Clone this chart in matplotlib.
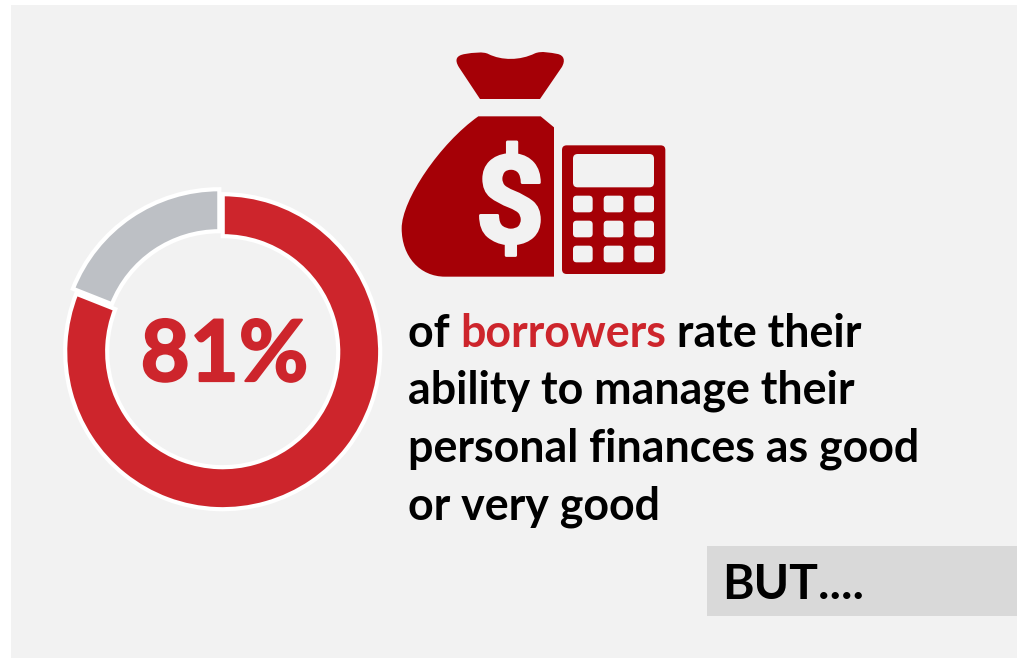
import matplotlib
matplotlib.use('Agg')
import matplotlib.pyplot as plt
from matplotlib.patches import FancyBboxPatch, PathPatch, Rectangle
from matplotlib.path import Path
import matplotlib.patheffects as pe

W, H = 1017, 659

shares = [81, 19]
share_colors = ['#CD252C', '#BDC0C5']
text_lines = [
    [('of ', 'black'), ('borrowers', '#CD252C'), (' rate their', 'black')],
    [('ability to manage their', 'black')],
    [('personal finances as good', 'black')],
    [('or very good', 'black')],
]
footer = 'BUT....'

PANEL = '#F2F2F2'
ICON = '#A50006'

fig = plt.figure(figsize=(W / 100, H / 100), dpi=100, facecolor='white')
ax = fig.add_axes([0, 0, 1, 1])


def py(y):
    return H - y


# icon coordinates were laid out on a 3x grid, offset from the top left
def ic(x, y):
    return 390 + x / 3, py(40 + y / 3)


def icon_shape(segments):
    verts, codes = [], []
    for code, pts in segments:
        for p in pts:
            verts.append(ic(*p))
            codes.append(code)
    verts.append(verts[0])
    codes.append(Path.CLOSEPOLY)
    ax.add_patch(PathPatch(Path(verts, codes), facecolor=ICON, edgecolor='none', zorder=3))


def icon_box(x0, y0, x1, y1, r, color, z):
    bx, by = ic(x0, y1)
    w, h = (x1 - x0) / 3, (y1 - y0) / 3
    pad = r / 3
    ax.add_patch(FancyBboxPatch((bx + pad, by + pad), w - 2 * pad, h - 2 * pad,
                                boxstyle='round,pad=%f,rounding_size=%f' % (pad, pad),
                                facecolor=color, edgecolor='none', zorder=z))


ax.add_patch(Rectangle((11, py(658)), W - 11, 653, facecolor=PANEL, edgecolor='none', zorder=0))
ax.add_patch(Rectangle((707, py(616)), W - 707, 70, facecolor='#D9D9D9', edgecolor='none', zorder=1))

# donut, the smaller share pulled out a little
wedges, _ = ax.pie(shares, colors=share_colors, startangle=90, counterclock=False,
                   center=(222.7, py(351.7)), radius=157.5, explode=[0, 6], frame=True,
                   wedgeprops=dict(width=42, edgecolor='white', linewidth=3))
ax.set_xlim(0, W)
ax.set_ylim(0, H)
ax.set_aspect('auto')
ax.axis('off')

# Lato has no heavier cut installed, a thin outline thickens the strokes
ax.text(224.5, py(381), '%d%%' % shares[0], color=share_colors[0], family='Lato',
        weight='bold', fontsize=61, ha='center', va='baseline', zorder=4,
        path_effects=[pe.withStroke(linewidth=1.6, foreground=share_colors[0])])

# money bag
icon_shape([
    (Path.MOVETO, [(270, 177)]),
    (Path.LINETO, [(207, 82)]),
    (Path.CURVE4, [(192, 58), (200, 46), (225, 42)]),
    (Path.CURVE4, [(250, 38), (280, 34), (295, 42)]),
    (Path.CURVE4, [(335, 62), (390, 62), (435, 40)]),
    (Path.CURVE4, [(455, 32), (480, 38), (503, 42)]),
    (Path.CURVE4, [(522, 46), (527, 62), (515, 82)]),
    (Path.LINETO, [(450, 177)]),
])
icon_shape([
    (Path.MOVETO, [(265, 229)]),
    (Path.LINETO, [(452, 229), (492, 262), (492, 710), (165, 710)]),
    (Path.CURVE4, [(90, 710), (35, 650), (35, 565)]),
    (Path.CURVE4, [(35, 480), (150, 310), (265, 229)]),
])
dx, dy = ic(360, 470)
ax.text(dx, dy, '$', color=PANEL, family='Roboto', weight='bold', fontsize=88,
        ha='center', va='center_baseline', zorder=4,
        path_effects=[pe.withStroke(linewidth=2, foreground=PANEL)])

# calculator
icon_box(516, 316, 826, 702, 14, ICON, 3)
icon_box(549, 342, 792, 442, 14, PANEL, 4)
for y0 in (467, 542, 617):
    for x0 in (549, 641, 733):
        icon_box(x0, y0, x0 + 59, y0 + 50, 11, PANEL, 4)

# body text, runs of one line placed one after the other
fig.canvas.draw()
renderer = fig.canvas.get_renderer()
baselines = [347, 404, 462, 519]
for runs, base in zip(text_lines, baselines):
    x = 408.0
    for s, col in runs:
        t = ax.text(x, py(base), s, color=col, family='Lato', weight='bold', fontsize=32.2,
                    ha='left', va='baseline', zorder=4)
        # trailing and leading spaces count towards the advance
        w, _, _ = renderer.get_text_width_height_descent(s, t.get_fontproperties(), False)
        x += w

ax.text(722.5, py(599), footer, color='black', family='Lato', weight='bold', fontsize=34.6,
        ha='left', va='baseline', zorder=4)

fig.savefig('out.png', dpi=100, facecolor='white')
